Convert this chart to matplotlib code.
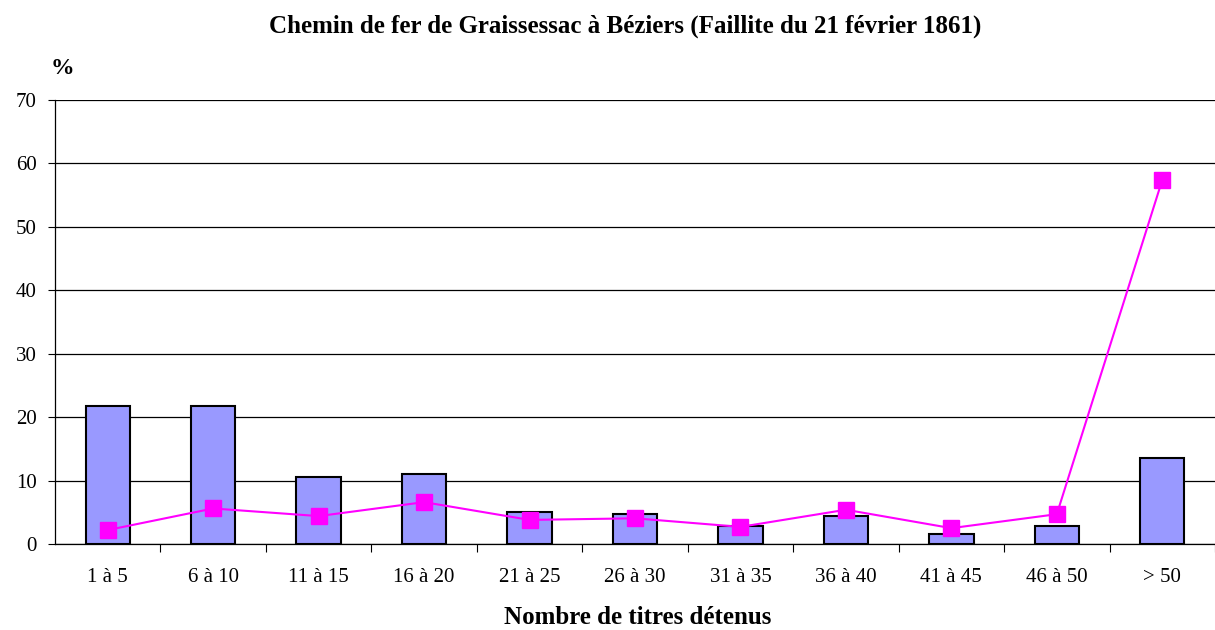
import matplotlib
matplotlib.use("Agg")
import matplotlib.pyplot as plt
import numpy as np

categories = ["1 à 5", "6 à 10", "11 à 15", "16 à 20", "21 à 25", "26 à 30",
              "31 à 35", "36 à 40", "41 à 45", "46 à 50", "> 50"]
bar_values = [21.8, 21.8, 10.6, 11.0, 5.0, 4.7, 2.8, 4.4, 1.6, 2.8, 13.6]
line_values = [2.2, 5.6, 4.4, 6.6, 3.8, 4.05, 2.7, 5.4, 2.5, 4.7, 57.4]

plt.rcParams['font.family'] = ['Liberation Serif', 'DejaVu Serif']

fig = plt.figure(figsize=(12.15, 6.3), dpi=100)
ax = fig.add_axes([55 / 1215, 1 - 544 / 630, 1 - 55 / 1215, 444 / 630])

x = np.arange(len(categories))
ax.bar(x, bar_values, width=0.42, color="#9999FF", edgecolor="black",
       linewidth=1.5, zorder=2)
ax.plot(x, line_values, color="#FF00FF", lw=1.5, marker="s", markersize=11,
        zorder=3)

ax.set_xlim(-0.5, len(categories) - 0.5)
ax.set_ylim(0, 70)
ax.set_yticks(range(0, 71, 10))
ax.yaxis.grid(True, color="black", lw=0.9, zorder=0)
ax.set_axisbelow(True)

# category labels sit between the boundary ticks
ax.set_xticks(x + 0.5, minor=False)
ax.set_xticklabels([])
ax.set_xticks(x, minor=True)
ax.set_xticklabels(categories, minor=True, fontsize=15)
ax.tick_params(axis="x", which="major", length=6, width=0.8, direction="out")
ax.tick_params(axis="x", which="minor", length=0, pad=17)
ax.tick_params(axis="y", length=5, width=0.8, labelsize=15, pad=8)

for s in ["top", "right"]:
    ax.spines[s].set_visible(False)
ax.spines["left"].set_linewidth(0.9)
ax.spines["bottom"].set_linewidth(0.9)

fig.text(625 / 1215, 1 - 26 / 630,
         "Chemin de fer de Graissessac à Béziers (Faillite du 21 février 1861)",
         ha="center", va="center", fontsize=18, fontweight="bold")
fig.text(62 / 1215, 1 - 68 / 630, "%", ha="center", va="center",
         fontsize=17, fontweight="bold")
fig.text(638 / 1215, 1 - 618 / 630, "Nombre de titres détenus", ha="center",
         va="center", fontsize=18, fontweight="bold")

fig.savefig("out.png", dpi=100)
